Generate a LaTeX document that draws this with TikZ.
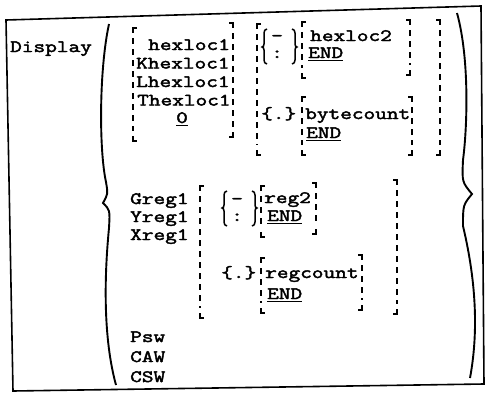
\documentclass[tikz,border=0pt]{standalone}
\usepackage{fontspec}
\setmonofont{Latin Modern Mono}[FakeStretch=1.31,FakeBold=2.5]
\newcommand\ulx[1]{\setbox0\hbox{#1}\rlap{\rule[-3pt]{\wd0}{1.4pt}}\box0}
\tikzset{
  t/.style={anchor=base west,inner sep=0pt,font=\ttfamily\fontsize{17.3}{17.3}\selectfont},
  bk/.style={line width=1.8pt},
  bkd/.style={line width=1.8pt,dash pattern=on 6pt off 5pt},
  brc/.style={line width=1.5pt},
  big/.style={line width=1.9pt},
  frame/.style={line width=1.6pt}
}
\newcommand\LBk[3]{\draw[bk] (#1+4,#2) -- (#1,#2) -- (#1,#2+5); \draw[bkd] (#1,#2+10) -- (#1,#3-10); \draw[bk] (#1,#3-5) -- (#1,#3) -- (#1+4,#3);}
\newcommand\RBk[3]{\draw[bk] (#1-4,#2) -- (#1,#2) -- (#1,#2+5); \draw[bkd] (#1,#2+10) -- (#1,#3-10); \draw[bk] (#1,#3-5) -- (#1,#3) -- (#1-4,#3);}
\newcommand\LBr[4]{\draw[brc] (#1+5,#2) to[out=180,in=90] (#1+2,#2+4) -- (#1+2,#3-3) to[out=-90,in=0] (#1,#3) to[out=0,in=90] (#1+2,#3+3) -- (#1+2,#4-4) to[out=-90,in=180] (#1+5,#4);}
\newcommand\RBr[4]{\draw[brc] (#1-5,#2) to[out=0,in=90] (#1-2,#2+4) -- (#1-2,#3-3) to[out=-90,in=180] (#1,#3) to[out=180,in=90] (#1-2,#3+3) -- (#1-2,#4-4) to[out=-90,in=0] (#1-5,#4);}
\begin{document}
\begin{tikzpicture}[x=1pt,y=-1pt]
\useasboundingbox (0,0) rectangle (485,394);
% frame
\draw[frame] (6,20) -- (481,6) -- (484,384) -- (13,391) -- cycle;
% big braces
\draw[big] (109,24) .. controls (99,70) and (99,150) .. (106,182) .. controls (108,194) .. (103,203) .. controls (110,210) .. (109,228) .. controls (103,290) and (105,345) .. (116,385);
\draw[big] (457,13) .. controls (470,60) and (467,130) .. (463,160) .. controls (462,182) .. (472,194) .. controls (463,205) .. (463,226) .. controls (477,285) and (478,335) .. (470,378);
% text
\node[t] (disp) at (10,52) {Display};
\node[t] (h1) at (148,50) {hexloc1};
\node[t] (kh1) at (136,68.5) {Khexloc1};
\node[t] (lh1) at (136,87) {Lhexloc1};
\node[t] (th1) at (137,105.5) {Thexloc1};
\node[t] (zero) at (176,123) {\ulx{0}};
% group 1 brackets
\LBk{133}{28}{141}
\RBk{233}{23}{137}
% group 2
\LBk{257}{24}{155}
\RBk{440}{20}{155}
\LBr{262}{29}{47}{64}
\node[t] (minus1) at (271,41) {-};
\node[t] (colon1) at (271,58) {:};
\RBr{297}{29}{47}{64}
\LBk{302}{22}{78}
\RBk{410}{20}{75}
\node[t] (h2) at (310,41) {hexloc2};
\node[t] (end1) at (308,58) {\ulx{END}};
\node[t] (dot1) at (261,119) {\{.\}};
\LBk{302}{97}{155}
\RBk{412}{97}{155}
\node[t] (bc) at (305,119) {bytecount};
\node[t] (end2) at (306,138) {\ulx{END}};
% group 3
\node[t] (g) at (130,204) {Greg1};
\node[t] (y) at (130,222) {Yreg1};
\node[t] (x) at (130,240) {Xreg1};
\LBk{200}{186}{318}
\RBk{397}{180}{314}
\LBr{222}{191}{208}{226}
\node[t] (minus2) at (231,204) {-};
\node[t] (colon2) at (231,221) {:};
\RBr{257}{191}{208}{226}
\LBk{261}{186}{237}
\RBk{316}{183}{234}
\node[t] (r2) at (264,203) {reg2};
\node[t] (end3) at (267,221) {\ulx{END}};
\node[t] (dot2) at (221,278) {\{.\}};
\LBk{261}{258}{313}
\RBk{362}{255}{310}
\node[t] (rc) at (265,278) {regcount};
\node[t] (end4) at (267,299) {\ulx{END}};
% bottom
\node[t] (psw) at (130,342) {Psw};
\node[t] (caw) at (130,362) {CAW};
\node[t] (csw) at (130,382) {CSW};
\end{tikzpicture}
\end{document}
